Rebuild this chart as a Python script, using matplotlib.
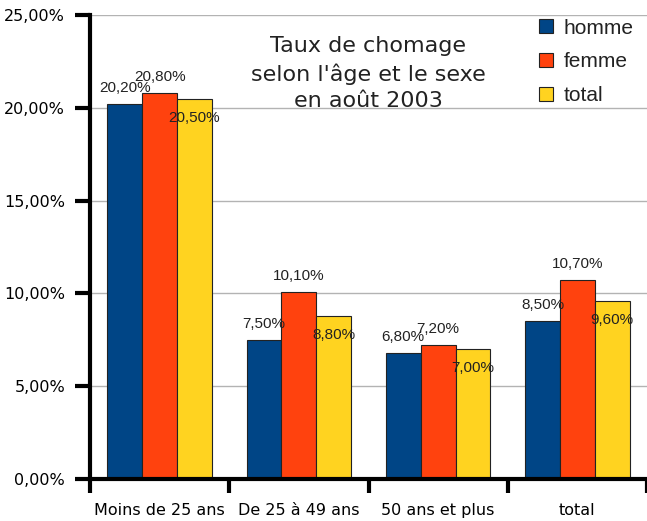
# Taux de chomage selon l'age et le sexe - grouped bar chart
import numpy as np
import matplotlib
matplotlib.use("Agg")
import matplotlib.pyplot as plt

# data
categories = ["Moins de 25 ans", "De 25 à 49 ans", "50 ans et plus", "total"]
homme = [20.2, 7.5, 6.8, 8.5]
femme = [20.8, 10.1, 7.2, 10.7]
total = [20.5, 8.8, 7.0, 9.6]
series_names = ["homme", "femme", "total"]
yticks = [0, 5, 10, 15, 20, 25]

colors = ["#004586", "#ff420e", "#ffd320"]

fig = plt.figure(figsize=(6.47, 5.21), dpi=100)
ax = fig.add_axes([90 / 647, 42 / 521, 557 / 647, 464 / 521])

x = np.arange(len(categories))
w = 0.25
label_off = [11.5, 11.5, -13.8]   # points: above, above, below the bar top
for i, (vals, name) in enumerate(zip([homme, femme, total], series_names)):
    pos = x + (i - 1) * w
    ax.bar(pos, vals, w, color=colors[i], edgecolor="#222222", linewidth=0.8,
           label=name, zorder=3)
    for px, v in zip(pos, vals):
        ax.annotate(("%.2f%%" % v).replace(".", ","), (px, v),
                    xytext=(0, label_off[i]), textcoords="offset points",
                    ha="center", va="center", fontsize=11,
                    family="Liberation Sans", color="#222222", zorder=5)

ax.set_xlim(-0.5, len(categories) - 0.5)
ax.set_ylim(0, 25)

# y axis
ax.set_yticks(yticks)
ax.set_yticklabels([("%.2f%%" % t).replace(".", ",") for t in yticks])
ax.yaxis.grid(True, color="#b3b3b3", linewidth=1, zorder=0)

# x axis: ticks at category boundaries, labels at centres
ax.set_xticks(np.arange(-0.5, len(categories), 1.0))
ax.set_xticklabels([])
ax.set_xticks(x, minor=True)
ax.set_xticklabels(categories, minor=True)
ax.tick_params(axis="x", which="minor", length=0, pad=17, labelsize=11.5)
ax.tick_params(axis="x", which="major", length=10, width=3, direction="out")
ax.tick_params(axis="y", length=11, width=3, direction="out", pad=7,
               labelsize=11.5)

for s in ["top", "right"]:
    ax.spines[s].set_visible(False)
ax.spines["left"].set_linewidth(3)
ax.spines["bottom"].set_linewidth(3)
ax.spines["bottom"].set_zorder(6)

# title inside the plot
ax.text(0.5, 0.874, "Taux de chomage\nselon l'âge et le sexe\nen août 2003",
        transform=ax.transAxes, ha="center", va="center", fontsize=16,
        linespacing=1.42, color="#222222")

leg = ax.legend(loc="upper left", bbox_to_anchor=(0.807, 0.992),
                frameon=False, handlelength=0.65,
                handleheight=0.65, handletextpad=0.5, labelspacing=0.7,
                borderpad=0, borderaxespad=0,
                prop={"family": "Liberation Sans", "size": 15})
for t in leg.get_texts():
    t.set_color("#222222")

plt.savefig("out.png", dpi=100)
